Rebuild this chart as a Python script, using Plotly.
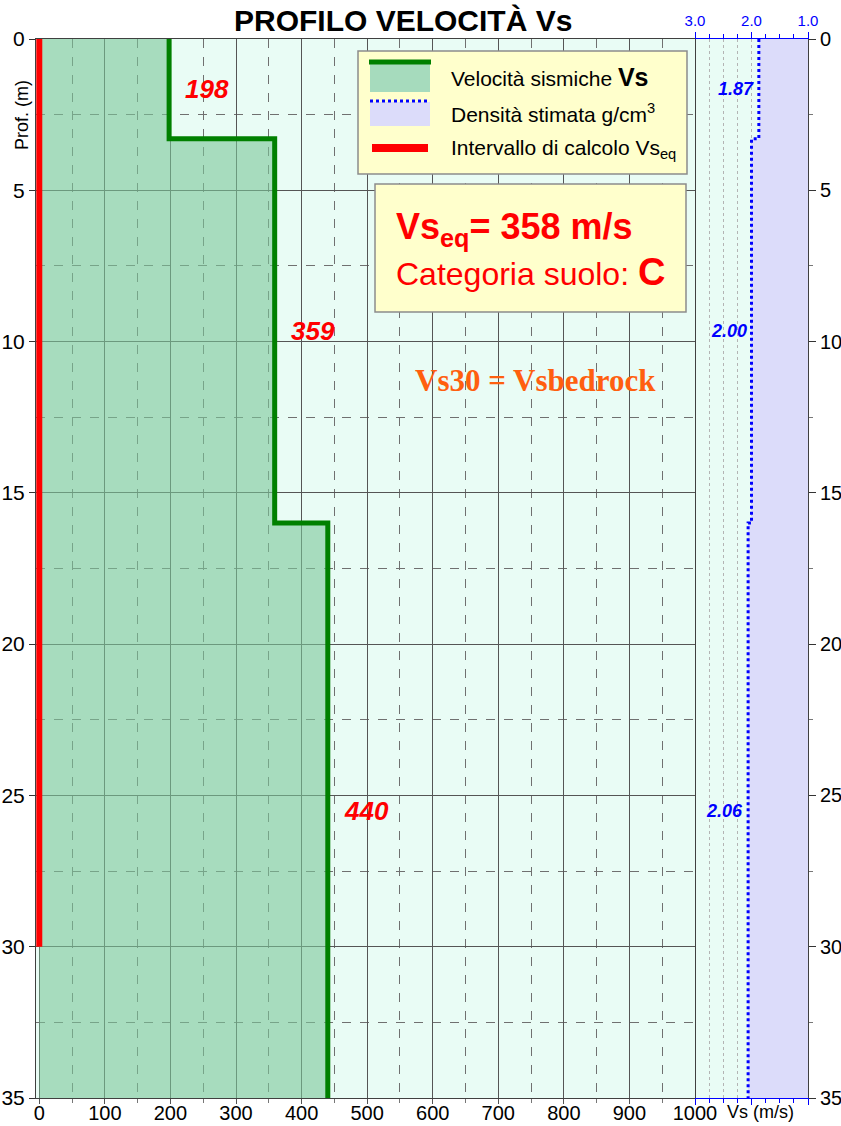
import plotly.graph_objects as go

# --- dati del profilo ---
depth_top = [0.0, 3.3, 16.0]
depth_bot = [3.3, 16.0, 35.0]
vs_layers = [198, 359, 440]
density_layers = [1.87, 2.00, 2.06]
vs_eq = 358
z_eq = 30.0
categoria = "C"

x_ticks_vs = list(range(0, 1001, 100))
y_ticks = list(range(0, 36, 5))
dens_ticks = [3.0, 2.0, 1.0]

# coordinate a gradini
step_depth, step_vs, step_rho = [], [], []
for top, bot, v, r in zip(depth_top, depth_bot, vs_layers, density_layers):
    step_depth += [top, bot]
    step_vs += [v, v]
    step_rho += [r, r]

# area grafica in pixel (la pagina viene portata a margine 0 con post_script)
W, H = 841, 1126
L, R, T, B = 36, 808, 39, 1098
def px(p):
    return (p - L) / (R - L)
def py(p):
    return 1 - (p - T) / (B - T)

FONT = "Liberation Sans, Arial, sans-serif"
BG = "#e9fcf5"
GREEN_FILL = "rgba(124,199,153,0.6)"

fig = go.Figure()

# area Vs
fig.add_trace(go.Scatter(
    x=step_vs, y=step_depth, mode="lines", fill="tozerox",
    fillcolor=GREEN_FILL, line=dict(color="#008000", width=5),
    xaxis="x", yaxis="y", showlegend=False, hoverinfo="skip"))

# intervallo di calcolo Vs_eq
fig.add_trace(go.Scatter(
    x=[0, 0], y=[0, z_eq], mode="lines",
    line=dict(color="#ff0000", width=6),
    xaxis="x", yaxis="y", showlegend=False, hoverinfo="skip"))

# densita'
fig.add_trace(go.Scatter(
    x=step_rho, y=step_depth, mode="lines", fill="tozerox",
    fillcolor="#dcdcfa", line=dict(color="#0000ff", width=3, dash="dot"),
    xaxis="x2", yaxis="y2", showlegend=False, hoverinfo="skip"))

# etichette strati
for top, bot, v, r in zip(depth_top, depth_bot, vs_layers, density_layers):
    mid = (top + bot) / 2
    fig.add_annotation(x=v, y=mid, xref="x", yref="y", text=f"<b><i>{v}</i></b>",
                       showarrow=False, xanchor="left", yanchor="middle", xshift=14,
                       font=dict(family=FONT, size=26, color="#ff0000"))
    fig.add_annotation(x=r, y=mid, xref="x2", yref="y2", text=f"<b><i>{r:.2f}</i></b>",
                       showarrow=False, xanchor="right", yanchor="middle", xshift=-3,
                       font=dict(family=FONT, size=18, color="#0000ff"))

grid_major = "#555555"
grid_minor = "#707070"

fig.update_layout(
    width=W, height=H,
    margin=dict(l=L, r=W - R, t=T, b=H - B, autoexpand=False),
    paper_bgcolor="white", plot_bgcolor=BG,
    font=dict(family=FONT, color="black"),
    xaxis=dict(
        domain=[0, px(695)], range=[-5, 1000], anchor="y", automargin=False,
        tickvals=x_ticks_vs, ticks="outside", ticklen=5, tickcolor="#555",
        tickfont=dict(size=20), ticklabelstandoff=-8,
        showline=True, linecolor="#404040", mirror=True,
        showgrid=True, gridcolor=grid_major, gridwidth=1, zeroline=False,
        minor=dict(dtick=50, tick0=0, showgrid=True, gridcolor=grid_minor,
                   griddash="dash", ticks="outside", ticklen=4, tickcolor="#777"),
    ),
    yaxis=dict(
        range=[35, 0], anchor="x", automargin=False, tickvals=y_ticks,
        ticks="outside", ticklen=6, tickcolor="#333", tickfont=dict(size=21),
        showline=True, linecolor="#404040", mirror=True, showgrid=True,
        gridcolor=grid_major, gridwidth=1, zeroline=False,
        minor=dict(dtick=2.5, tick0=0, showgrid=True, gridcolor=grid_minor,
                   griddash="dash"),
    ),
    xaxis2=dict(
        domain=[px(695), 1], range=[3, 1], anchor="y2", side="top", automargin=False,
        tickvals=dens_ticks, ticktext=[f"{t:.1f}" for t in dens_ticks],
        ticks="outside", ticklen=6, tickcolor="#0000ff",
        tickfont=dict(size=15, color="#0000ff"), showline=True,
        linecolor="#0000ff", mirror="ticks", showgrid=True, gridcolor="#b4b4b4",
        griddash="dot", zeroline=False,
        minor=dict(dtick=0.25, tick0=1, showgrid=True, gridcolor="#b4b4b4",
                   griddash="dot", ticks="outside", ticklen=4, tickcolor="#0000ff"),
    ),
    yaxis2=dict(
        range=[35, 0], anchor="x2", side="right", automargin=False, tickvals=y_ticks,
        ticks="outside", ticklen=7, tickcolor="#333", tickfont=dict(size=20),
        showline=True, linecolor="#404040", showgrid=False, zeroline=False,
        minor=dict(dtick=2.5, tick0=0, ticks="outside", ticklen=4, tickcolor="#777"),
    ),
)

def testo(xp, yp, txt, size, color="black", family=FONT, xanchor="center", angle=0):
    fig.add_annotation(x=px(xp), y=py(yp), xref="paper", yref="paper", text=txt,
                       showarrow=False, xanchor=xanchor, yanchor="middle",
                       textangle=angle, font=dict(family=family, size=size, color=color))

# titolo e testi fissi
testo(403, 21, "<b>PROFILO VELOCITÀ Vs</b>", 30)
testo(22, 115, "Prof. (m)", 18, angle=-90)
testo(760, 1112, "Vs (m/s)", 18)

# legenda personalizzata
shapes = [
    dict(type="rect", x0=px(358), x1=px(687), y0=py(51), y1=py(174),
         fillcolor="#ffffcc", line=dict(color="#8c8c8c", width=1.5)),
    dict(type="rect", x0=px(370), x1=px(430), y0=py(64), y1=py(92),
         fillcolor="#a6dbbd", line=dict(width=0)),
    dict(type="line", x0=px(369), x1=px(431), y0=py(62), y1=py(62),
         line=dict(color="#008000", width=5)),
    dict(type="rect", x0=px(370), x1=px(430), y0=py(102), y1=py(126),
         fillcolor="#dcdcfa", line=dict(width=0)),
    dict(type="line", x0=px(370), x1=px(430), y0=py(101), y1=py(101),
         line=dict(color="#0000ff", width=3, dash="dot")),
    dict(type="line", x0=px(372), x1=px(428), y0=py(148), y1=py(148),
         line=dict(color="#ff0000", width=8)),
    dict(type="rect", x0=px(375), x1=px(686), y0=py(184), y1=py(312),
         fillcolor="#ffffcc", line=dict(color="#8c8c8c", width=1.5)),
]
for s in shapes:
    s.update(xref="paper", yref="paper", layer="above")
fig.update_layout(shapes=shapes)

testo(449, 77, "Velocità sismiche <b><span style='font-size:25px'>Vs</span></b>", 21,
      xanchor="left")
testo(449, 113, "Densità stimata g/cm<sup>3</sup>", 21, xanchor="left")
testo(449, 149, "Intervallo di calcolo Vs<sub>eq</sub>", 21, xanchor="left")

testo(394, 229, f"<b>Vs<sub>eq</sub>= {vs_eq} m/s</b>", 36, color="#ff0000", xanchor="left")
testo(394, 272, f"Categoria suolo: <b><span style='font-size:38px'>{categoria}</span></b>",
      32, color="#ff0000", xanchor="left")
testo(535, 381, "<b>Vs30 = Vsbedrock</b>", 31, color="#ff5f0f",
      family="Liberation Serif, Times New Roman, serif")

# niente margine di default del body, cosi' la figura parte da (0,0)
fig.write_html("out.html", config={"displayModeBar": False},
               post_script="document.body.style.margin='0';")
